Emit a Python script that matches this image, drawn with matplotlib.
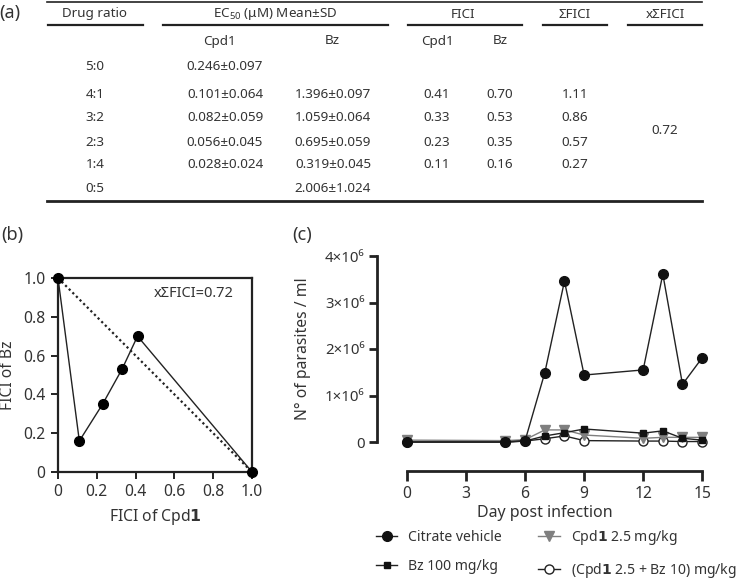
import matplotlib
matplotlib.use("Agg")
import matplotlib.pyplot as plt
from matplotlib.lines import Line2D

plt.rcParams['font.family'] = ['Noto Sans', 'DejaVu Sans']
plt.rcParams['mathtext.fontset'] = 'custom'
plt.rcParams['mathtext.rm'] = 'Noto Sans'
plt.rcParams['mathtext.it'] = 'Noto Sans:italic'
plt.rcParams['mathtext.bf'] = 'DejaVu Sans:bold'

# ---------------- data ----------------
drug_ratio = ["5:0", "4:1", "3:2", "2:3", "1:4", "0:5"]
ec50_cpd1 = ["0.246±0.097", "0.101±0.064", "0.082±0.059", "0.056±0.045", "0.028±0.024", ""]
ec50_bz = ["", "1.396±0.097", "1.059±0.064", "0.695±0.059", "0.319±0.045", "2.006±1.024"]
fici_cpd1 = [0.41, 0.33, 0.23, 0.11]
fici_bz = [0.70, 0.53, 0.35, 0.16]
sum_fici = ["1.11", "0.86", "0.57", "0.27"]
mean_sum_fici = "0.72"

days = [0, 5, 6, 7, 8, 9, 12, 13, 14, 15]
citrate = [0.0, 0.0, 0.03e6, 1.49e6, 3.46e6, 1.44e6, 1.55e6, 3.61e6, 1.24e6, 1.81e6]
bz100 = [0.0, 0.0, 0.02e6, 0.13e6, 0.20e6, 0.28e6, 0.19e6, 0.24e6, 0.08e6, 0.04e6]
cpd1_25 = [0.04e6, 0.03e6, 0.05e6, 0.26e6, 0.26e6, 0.15e6, 0.08e6, 0.10e6, 0.10e6, 0.10e6]
combo = [0.0, 0.0, 0.02e6, 0.07e6, 0.13e6, 0.03e6, 0.02e6, 0.02e6, 0.01e6, 0.01e6]

yticks_c = [0, 1e6, 2e6, 3e6, 4e6]
yticklabels_c = ["0", "1×10⁶", "2×10⁶", "3×10⁶", "4×10⁶"]
xticks_c = [0, 3, 6, 9, 12, 15]

W, H = 743, 582
fig = plt.figure(figsize=(W / 100, H / 100), dpi=100)

def fx(px):
    return px / W

def fy(py):
    return 1 - py / H

TXT = '#333333'
LINE = '#222222'

# ---------------- (a) table ----------------
fs = 9.7
fig.text(fx(10), fy(13), "(a)", fontsize=13, ha='center', va='center', color=TXT)
fig.add_artist(Line2D([fx(47), fx(702)], [fy(2), fy(2)], color=LINE, lw=1.2))
fig.add_artist(Line2D([fx(47), fx(702)], [fy(201), fy(201)], color=LINE, lw=2.0))

headers = [("Drug ratio", 95, 48, 143),
           ("EC$_{50}$ (μM) Mean±SD", 275, 163, 388),
           ("FICI", 463, 408, 522),
           ("ΣFICI", 575, 543, 607),
           ("xΣFICI", 665, 628, 702)]
for txt, cx, x0, x1 in headers:
    fig.text(fx(cx), fy(14), txt, fontsize=fs, ha='center', va='center', color=TXT)
    fig.add_artist(Line2D([fx(x0), fx(x1)], [fy(25), fy(25)], color=LINE, lw=1.6))

for txt, cx in [("Cpd1", 219), ("Bz", 332), ("Cpd1", 437), ("Bz", 500)]:
    fig.text(fx(cx), fy(41), txt, fontsize=fs, ha='center', va='center', color=TXT)

row_y = [67, 95, 118, 142, 165, 189]
for i, y in enumerate(row_y):
    fig.text(fx(95), fy(y), drug_ratio[i], fontsize=fs, ha='center', va='center', color=TXT)
    if ec50_cpd1[i]:
        fig.text(fx(225), fy(y), ec50_cpd1[i], fontsize=fs, ha='center', va='center', color=TXT)
    if ec50_bz[i]:
        fig.text(fx(333), fy(y), ec50_bz[i], fontsize=fs, ha='center', va='center', color=TXT)
for j in range(4):
    y = row_y[j + 1]
    fig.text(fx(437), fy(y), f"{fici_cpd1[j]:.2f}", fontsize=fs, ha='center', va='center', color=TXT)
    fig.text(fx(500), fy(y), f"{fici_bz[j]:.2f}", fontsize=fs, ha='center', va='center', color=TXT)
    fig.text(fx(575), fy(y), sum_fici[j], fontsize=fs, ha='center', va='center', color=TXT)
fig.text(fx(665), fy(130), mean_sum_fici, fontsize=fs, ha='center', va='center', color=TXT)

# ---------------- (b) isobologram ----------------
axb = fig.add_axes([fx(58), fy(472), 194 / W, 194 / H])
bx = [0.0] + fici_cpd1[::-1] + [1.0]
by = [1.0] + fici_bz[::-1] + [0.0]
axb.plot([0, 1], [1, 0], color=LINE, lw=1.6, ls=(0, (1, 1.3)), zorder=2)
axb.plot(bx, by, color=LINE, lw=1.0, marker='o', ms=7, mfc='black', mec='black',
         clip_on=False, zorder=3)
axb.set_xlim(0, 1)
axb.set_ylim(0, 1)
ticks_b = [0, 0.2, 0.4, 0.6, 0.8, 1.0]
tl_b = ["0", "0.2", "0.4", "0.6", "0.8", "1.0"]
axb.set_xticks(ticks_b)
axb.set_xticklabels(tl_b)
axb.set_yticks(ticks_b)
axb.set_yticklabels(tl_b)
for s in axb.spines.values():
    s.set_linewidth(1.6)
    s.set_color(LINE)
axb.tick_params(direction='out', length=5, width=1.4, labelsize=11.3, colors=LINE,
                labelcolor=TXT, pad=4)
axb.text(0.70, 0.92, "xΣFICI=" + mean_sum_fici, fontsize=10.5, ha='center', va='center',
         color=TXT)
axb.set_xlabel(r"FICI of Cpd$\mathbf{1}$", fontsize=11.3, color=TXT, labelpad=5)
axb.set_ylabel("FICI of Bz", fontsize=11.3, color=TXT)
axb.yaxis.set_label_coords((16 - 58) / 194, 0.5)
fig.text(fx(12), fy(235), "(b)", fontsize=13, ha='center', va='center', color=TXT)

# ---------------- (c) parasitaemia ----------------
axc = fig.add_axes([fx(377), fy(442), 335 / W, 186 / H])
axc.plot(days, combo, color=LINE, lw=1.0, marker='o', ms=6.5, mfc='white',
         mec=LINE, mew=1.0, clip_on=False, zorder=3,
         label=r"(Cpd$\mathbf{1}$ 2.5 + Bz 10) mg/kg")
axc.plot(days, cpd1_25, color='#7f7f7f', lw=1.0, marker='v', ms=7.5, mfc='#7f7f7f',
         mec='#7f7f7f', clip_on=False, zorder=4, label=r"Cpd$\mathbf{1}$ 2.5 mg/kg")
axc.plot(days, bz100, color=LINE, lw=1.0, marker='s', ms=5, mfc='#111111',
         mec='#111111', clip_on=False, zorder=5, label="Bz 100 mg/kg")
axc.plot(days, citrate, color=LINE, lw=1.0, marker='o', ms=7, mfc='#111111',
         mec='#111111', clip_on=False, zorder=6, label="Citrate vehicle")
axc.set_xlim(-1.53, 15.5)
axc.set_ylim(0, 4e6)
axc.set_xticks(xticks_c)
axc.set_yticks(yticks_c)
axc.set_yticklabels(yticklabels_c)
axc.spines['top'].set_visible(False)
axc.spines['right'].set_visible(False)
axc.spines['left'].set_bounds(0, 4e6)
axc.spines['bottom'].set_bounds(0, 15)
axc.spines['bottom'].set_position(('outward', 21))
for s in ('left', 'bottom'):
    axc.spines[s].set_linewidth(2.0)
    axc.spines[s].set_color(LINE)
axc.tick_params(axis='y', direction='out', length=6, width=2.0, labelsize=10.8,
                colors=LINE, labelcolor=TXT, pad=3)
axc.tick_params(axis='x', direction='out', length=7, width=2.0, labelsize=11.3,
                colors=LINE, labelcolor=TXT, pad=4)
axc.set_xlabel("Day post infection", fontsize=11.5, color=TXT, labelpad=2)
axc.set_ylabel("N° of parasites / ml", fontsize=11.3, color=TXT)
axc.yaxis.set_label_coords((311 - 377) / 335, 0.5)
fig.text(fx(302), fy(235), "(c)", fontsize=13, ha='center', va='center', color=TXT)

h, l = axc.get_legend_handles_labels()
order = [3, 2, 1, 0]  # Citrate, Bz | Cpd1, combo
leg = fig.legend([h[i] for i in order], [l[i] for i in order], ncol=2,
                 loc='center left', bbox_to_anchor=(fx(376), fy(554)), frameon=False,
                 fontsize=10.1, handlelength=1.5, handletextpad=0.8, columnspacing=2.6,
                 labelspacing=1.0, borderpad=0.0, borderaxespad=0.0)
for t in leg.get_texts():
    t.set_color(TXT)

fig.savefig("out.png", dpi=100)
